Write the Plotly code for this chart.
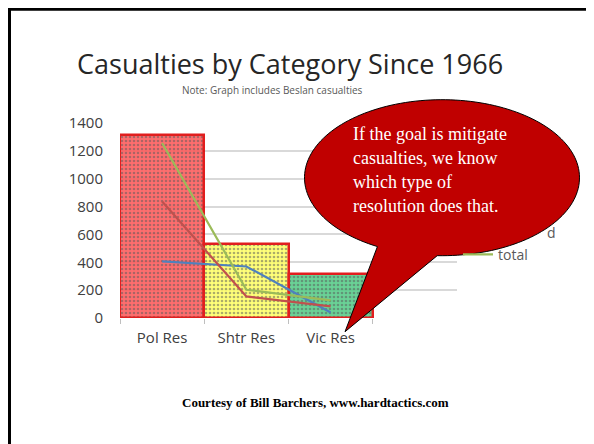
import numpy as np
import plotly.graph_objects as go

# ---- data ----
categories = ["Pol Res", "Shtr Res", "Vic Res"]
bar_values = [1316, 533, 316]
killed = [406, 370, 40]
wounded = [837, 155, 83]
total = [1256, 203, 126]
y_ticks = [0, 200, 400, 600, 800, 1000, 1200, 1400]
title_text = "Casualties by Category Since 1966"
note_text = "Note: Graph includes Beslan casualties"
callout_lines = ["If the goal is mitigate", "casualties, we know", "which type of", "resolution does that."]
footer_text = "Courtesy of Bill Barchers, www.hardtactics.com"

OFF = 8  # page body margin offset
W, H = 594 - OFF, 444 - OFF
PL, PR, PT, PB = 120, 457, 123.3, 318.3  # plot area in reference pixels


def px(x):
    return (x - PL) / (PR - PL)


def py(y):
    return (PB - y) / (PB - PT)


fig = go.Figure()

line_colors = ["#4F81BD", "#C0504D", "#9BBB59"]
for name, vals, col, show in [("Killed", killed, line_colors[0], False),
                              ("Wounded", wounded, line_colors[1], False),
                              ("total", total, line_colors[2], True)]:
    fig.add_trace(go.Scatter(x=categories, y=vals, mode="lines", name=name,
                             line=dict(color=col, width=2.2), showlegend=show))

bar_bg = ["#FF5A5A", "#FFFF66", "#55CC88"]
bar_fg = ["#E02828", "#FFFFC0", "#23995A"]
fig.add_trace(go.Bar(x=categories, y=bar_values, width=1.0, showlegend=False,
                     opacity=0.88,
                     marker=dict(color=bar_bg,
                                 line=dict(color="#DD0000", width=2.5),
                                 pattern=dict(shape=".", fgcolor=bar_fg, bgcolor=bar_bg,
                                              size=4, solidity=0.35))))

# callout path (ellipse with tail)
cx, cy, rx, ry = 442, 178, 137.5, 78
tip = (345, 332)
ts = np.deg2rad(np.linspace(118, 452, 160))
pts = [(cx + rx * np.cos(t), cy + ry * np.sin(t)) for t in ts]
path = "M " + " L ".join(f"{px(x):.4f},{py(y):.4f}" for x, y in pts)
path += f" L {px(tip[0]):.4f},{py(tip[1]):.4f} Z"

shapes = [
    dict(type="path", path=path, xref="paper", yref="paper", layer="above",
         fillcolor="#C00000", line=dict(color="#000000", width=1)),
    dict(type="line", xref="paper", yref="paper", x0=px(8), x1=px(600), y0=py(9.5), y1=py(9.5),
         line=dict(color="#000000", width=3)),
    dict(type="line", xref="paper", yref="paper", x0=px(9.5), x1=px(9.5), y0=py(8), y1=py(450),
         line=dict(color="#000000", width=3)),
]

annotations = [
    dict(text=title_text, x=px(290), y=py(64), xref="paper", yref="paper", showarrow=False,
         xanchor="center", yanchor="middle", font=dict(family="Open Sans", size=27, color="#262626")),
    dict(text=note_text, x=px(272), y=py(90), xref="paper", yref="paper", showarrow=False,
         xanchor="center", yanchor="middle", font=dict(family="Open Sans", size=10, color="#595959")),
    dict(text="<b>" + footer_text + "</b>", x=px(315), y=py(403), xref="paper", yref="paper",
         showarrow=False, xanchor="center", yanchor="middle",
         font=dict(family="Liberation Serif", size=13, color="#000000")),
    dict(text="d", x=px(551), y=py(233), xref="paper", yref="paper", showarrow=False,
         xanchor="center", yanchor="middle", font=dict(family="Open Sans", size=14, color="#595959")),
]
for i, ln in enumerate(callout_lines):
    annotations.append(dict(text=ln, x=px(351), y=py(146 + 24 * i), xref="paper", yref="paper",
                            showarrow=False, xanchor="left", yanchor="bottom",
                            font=dict(family="Liberation Serif", size=18, color="#FFFFFF")))

fig.update_layout(
    width=W, height=H,
    margin=dict(l=PL - OFF, r=W - (PR - OFF), t=PT - OFF, b=H - (PB - OFF), pad=0),
    paper_bgcolor="white", plot_bgcolor="white",
    bargap=0,
    shapes=shapes, annotations=annotations,
    legend=dict(x=px(458), y=py(255), xanchor="left", yanchor="middle",
                font=dict(family="Open Sans", size=14, color="#595959"),
                bgcolor="rgba(0,0,0,0)", itemwidth=30),
    xaxis=dict(type="category", categoryarray=categories, range=[-0.5, 3.5],
               tickson="boundaries", ticks="outside", ticklen=5, tickcolor="#BFBFBF",
               showgrid=False, showline=False, zeroline=False,
               tickfont=dict(family="Open Sans", size=15, color="#404040"),
               ticklabelstandoff=9),
    yaxis=dict(range=[0, 1400], tickvals=y_ticks, showgrid=True, gridcolor="#D9D9D9", gridwidth=1.5,
               zeroline=False, showline=False, ticks="",
               tickfont=dict(family="Open Sans", size=15, color="#404040"),
               ticklabelstandoff=16),
)

fig.write_html("out.html")
